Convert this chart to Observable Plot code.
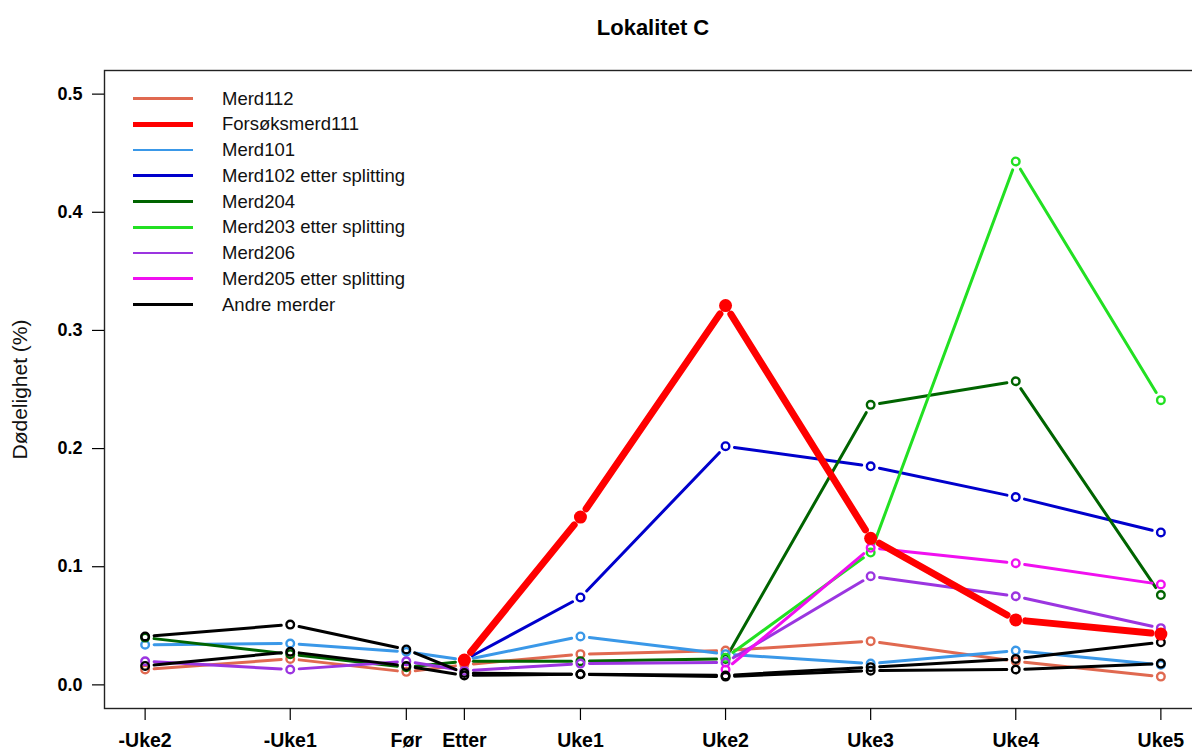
<!DOCTYPE html>
<html><head><meta charset="utf-8">
<script src="https://cdn.jsdelivr.net/npm/d3@7"></script>
<script src="https://cdn.jsdelivr.net/npm/@observablehq/plot@0.6"></script>
<style>
html,body{margin:0;padding:0;background:#fff;overflow:hidden;}
#wrap{position:relative;width:1192px;height:751px;overflow:hidden;font-family:Arial,"Liberation Sans",sans-serif;}
#wrap svg{overflow:hidden;}
.lg-sw{position:absolute;}
.lg-tx{position:absolute;font-size:18.5px;color:#111;white-space:nowrap;line-height:20px;}
</style></head>
<body><div id="wrap"></div>
<script>
// ---- data ----
const weekLabels = ["-Uke2","-Uke1","Før","Etter","Uke1","Uke2","Uke3","Uke4","Uke5"];
const weekPos    = [-2, -1, -0.2, 0.2, 1, 2, 3, 4, 5];
const yTicks     = [0, 0.1, 0.2, 0.3, 0.4, 0.5];

const legendNames  = ["Merd112","Forsøksmerd111","Merd101","Merd102 etter splitting","Merd204","Merd203 etter splitting","Merd206","Merd205 etter splitting","Andre merder"];
const legendColors = ["#E06950","#FF0000","#3A98E8","#0000CC","#006400","#22E022","#9B35E0","#F010F0","#000000"];

const merd112   = [0.013, 0.022, 0.011, 0.017, 0.026, 0.029, 0.037, 0.020, 0.007];
const merd111   = [null,  null,  null,  0.021, 0.142, 0.321, 0.124, 0.055, 0.043];
const merd101   = [0.034, 0.035, 0.028, 0.021, 0.041, 0.026, 0.018, 0.029, 0.017];
const merd102   = [null,  null,  null,  0.021, 0.074, 0.202, 0.185, 0.159, 0.129];
const merd204   = [0.040, 0.026, 0.015, 0.020, 0.020, 0.022, 0.237, 0.257, 0.076];
const merd203   = [null,  null,  null,  null,  null,  0.023, 0.112, 0.443, 0.241];
const merd206   = [0.020, 0.013, 0.020, 0.012, 0.018, 0.019, 0.092, 0.075, 0.048];
const merd205   = [null,  null,  null,  null,  null,  0.013, 0.116, 0.103, 0.085];
const andre1    = [0.041, 0.051, 0.030, 0.010, 0.009, 0.008, 0.015, 0.022, 0.036];
const andre2    = [0.016, 0.028, 0.016, 0.008, 0.009, 0.007, 0.012, 0.013, 0.018];

// draw order (thin series), then the trial cage on top
const thinSeries = [
  {vals: merd112, color: legendColors[0]},
  {vals: merd101, color: legendColors[2]},
  {vals: merd102, color: legendColors[3]},
  {vals: merd204, color: legendColors[4]},
  {vals: merd203, color: legendColors[5]},
  {vals: merd206, color: legendColors[6]},
  {vals: merd205, color: legendColors[7]},
  {vals: andre1,  color: legendColors[8]},
  {vals: andre2,  color: legendColors[8]}
];
const redSeries = [{vals: merd111, color: legendColors[1]}];

function toPoints(list){
  const pts = [];
  list.forEach(s => s.vals.forEach((v,i) => { if (v != null) pts.push({x: weekPos[i], y: v, c: s.color}); }));
  return pts;
}
function toSegs(list){
  const segs = [];
  list.forEach(s => {
    for (let i = 0; i < s.vals.length - 1; i++) {
      const a = s.vals[i], b = s.vals[i+1];
      if (a != null && b != null) segs.push({x1: weekPos[i], y1: a, x2: weekPos[i+1], y2: b, c: s.color});
    }
  });
  return segs;
}
const labelOf = new Map(weekPos.map((p,i) => [p, weekLabels[i]]));

const chart = Plot.plot({
  width: 1192,
  height: 751,
  marginTop: 70,
  marginBottom: 43,
  marginLeft: 104,
  marginRight: -9,
  style: {fontFamily: "Arial, 'Liberation Sans', sans-serif", fontWeight: "bold", background: "#fff", color: "#000"},
  x: {domain: [-2.28, 5.28]},
  y: {domain: [-0.02, 0.52]},
  color: {type: "identity"},
  marks: [
    Plot.frame({stroke: "#222", strokeWidth: 1.4}),
    Plot.axisY({ticks: yTicks, tickFormat: d3.format(".1f"), tickSize: 12, tickPadding: 10, fontSize: 18, fontWeight: "bold", label: null, strokeWidth: 1.2}),
    Plot.axisX({ticks: weekPos, tickFormat: d => labelOf.get(d), tickSize: 12, tickPadding: 13, fontSize: 19.5, fontWeight: "bold", label: null, strokeWidth: 1.2}),
    Plot.arrow(toSegs(thinSeries), {x1: "x1", y1: "y1", x2: "x2", y2: "y2", stroke: "c", strokeWidth: 3, headLength: 0, insetStart: 9, insetEnd: 9, bend: 0}),
    Plot.dot(toPoints(thinSeries), {x: "x", y: "y", stroke: "c", fill: "none", r: 3.8, strokeWidth: 2.4}),
    Plot.arrow(toSegs(redSeries), {x1: "x1", y1: "y1", x2: "x2", y2: "y2", stroke: "c", strokeWidth: 7, headLength: 0, insetStart: 10, insetEnd: 10, bend: 0}),
    Plot.dot(toPoints(redSeries), {x: "x", y: "y", fill: "c", r: 6.5}),
    Plot.text(["Dødelighet (%)"], {frameAnchor: "left", textAnchor: "middle", lineAnchor: "middle", dx: -84, rotate: -90, fontSize: 21, fontWeight: "normal", fill: "#111"}),
    Plot.text(["Lokalitet C"], {frameAnchor: "top", textAnchor: "middle", lineAnchor: "middle", dy: -43, fontSize: 22, fontWeight: "bold", fill: "#000"})
  ]
});

const wrap = document.getElementById("wrap");
wrap.appendChild(chart);

// legend (HTML overlay inside the plot box, top-left)
legendNames.forEach((name, i) => {
  const cy = 98.5 + i * 25.75;
  const lw = i === 1 ? 5 : 2.6;
  const sw = document.createElement("div");
  sw.className = "lg-sw";
  sw.style.left = "133px";
  sw.style.width = "60px";
  sw.style.height = lw + "px";
  sw.style.top = (cy - lw / 2) + "px";
  sw.style.background = legendColors[i];
  wrap.appendChild(sw);
  const tx = document.createElement("div");
  tx.className = "lg-tx";
  tx.style.left = "222px";
  tx.style.top = (cy - 10) + "px";
  tx.textContent = name;
  wrap.appendChild(tx);
});
</script>
</body></html>
